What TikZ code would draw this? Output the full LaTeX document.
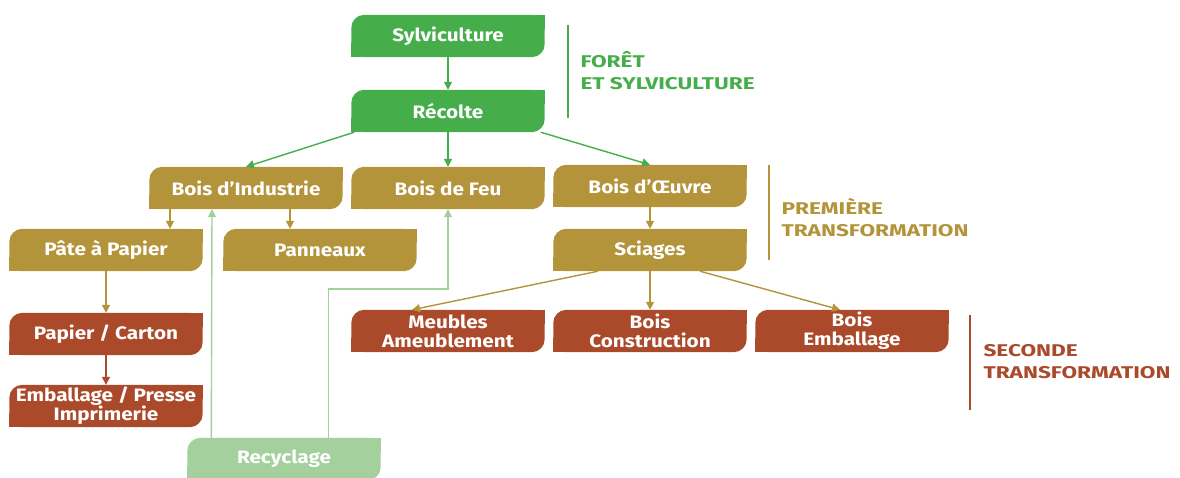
\documentclass[tikz,border=0pt]{standalone}
\usepackage{fontspec}
\setmainfont{Fira Sans}
\newfontfamily\boitefont{Fira Sans}[FakeStretch=1.15]
\newfontfamily\etapefont{Fira Sans}[FakeStretch=1.33]
\usetikzlibrary{arrows.meta,backgrounds}
\definecolor{vert}{HTML}{45AE4B}
\definecolor{ocre}{HTML}{B3943A}
\definecolor{brique}{HTML}{AA4A2B}
\definecolor{vertclair}{HTML}{A3D09C}
\tikzset{
  boite/.style={minimum width=193pt,minimum height=42pt,inner sep=0pt,text=white,align=center,
    font=\boitefont\bfseries\fontsize{18}{19}\selectfont},
  deuxlignes/.style={font=\boitefont\bfseries\fontsize{16}{16.5}\selectfont},
  fleche/.style={line width=1.4pt,-{Triangle[length=8pt,width=8pt]}},
  etape/.style={anchor=west,align=left,font=\etapefont\bfseries\fontsize{17}{22}\selectfont}
}
\newcommand{\boite}[5]{\node[boite] (#1) at ( #2 , #3 ) {#5};
  \begin{scope}[on background layer]
  \fill[#4,rounded corners=13pt] (#1.south west) rectangle (#1.north east);
  \fill[#4] (#1.north east) rectangle ([xshift=-14pt,yshift=-14pt]#1.north east);
  \fill[#4] (#1.south west) rectangle ([xshift=14pt,yshift=14pt]#1.south west);
  \end{scope}}

\begin{document}
\begin{tikzpicture}[x=1pt,y=-1pt]
        \useasboundingbox (0,0) rectangle (1180,478);
        %nodes
        \boite{syl}{448}{36}{vert}{Sylviculture}
        \boite{rec}{448}{111}{vert}{Récolte}
        \boite{bind}{246}{188}{ocre}{Bois d’Industrie}
        \boite{feu}{448}{188}{ocre}{Bois de Feu}
        \boite{oeuv}{650}{186}{ocre}{Bois d’Œuvre}
        \boite{sci}{650}{250}{ocre}{Sciages}
        \boite{pate}{106}{250}{ocre}{Pâte à Papier}
        \boite{pan}{320}{250}{ocre}{Panneaux}
        \boite{pap}{106}{334}{brique}{Papier / Carton}
        \boite{emb}{106}{406}{brique}{\tikzset{deuxlignes}Emballage / Presse\\Imprimerie}
        \boite{meub}{448}{331}{brique}{\tikzset{deuxlignes}Meubles\\Ameublement}
        \boite{cons}{650}{331}{brique}{\tikzset{deuxlignes}Bois\\Construction}
        \boite{embo}{852}{331}{brique}{\tikzset{deuxlignes}Bois\\Emballage}
        \boite{recy}{284}{459}{vertclair}{Recyclage}
        
        %arrows
        \draw[fleche,vert] (syl) -- (rec);
        \draw[fleche,vert] ([xshift=3pt]rec.south west) -- (bind.north);
        \draw[fleche,vert] (rec) -- (feu);
        \draw[fleche,vert] ([xshift=-4pt]rec.south east) -- (oeuv.north);
        \draw[fleche,ocre] ([xshift=-76pt]bind.south) -- ([xshift=64pt]pate.north);
        \draw[fleche,ocre] ([xshift=44pt]bind.south) -- ([xshift=-30pt]pan.north);
        \draw[fleche,ocre] (pate) -- (pap);
        \draw[fleche,brique] (pap) -- (emb);
        \draw[fleche,ocre] (oeuv) -- (sci);
        \draw[fleche,ocre] ([xshift=-52pt]sci.south) -- ([xshift=-36pt]meub.north);
        \draw[fleche,ocre] (sci) -- (cons);
        \draw[fleche,ocre] ([xshift=50pt]sci.south) -- ([xshift=-12pt]embo.north);
        %recycling
        \coordinate (coude) at (448,289);
        \draw[fleche,vertclair] ([xshift=24pt]recy.north west) -- ([xshift=-34pt]bind.south);
        \draw[fleche,vertclair] ([xshift=-52pt]recy.north east) |- (coude) -- (feu.south);
        
        %stages
        \draw[vert,line width=1.4pt] (568,25) -- (568,118);
        \node[etape,text=vert] (foret) at (577,71) {FORÊT\\ET SYLVICULTURE};
        \draw[ocre,line width=1.4pt] (769,165) -- (769,260);
        \node[etape,text=ocre] (prem) at (778,218) {PREMIÈRE\\TRANSFORMATION};
        \draw[brique,line width=1.4pt] (970,315) -- (970,410);
        \node[etape,text=brique] (sec) at (980,362) {SECONDE\\TRANSFORMATION};
\end{tikzpicture}
\end{document}
